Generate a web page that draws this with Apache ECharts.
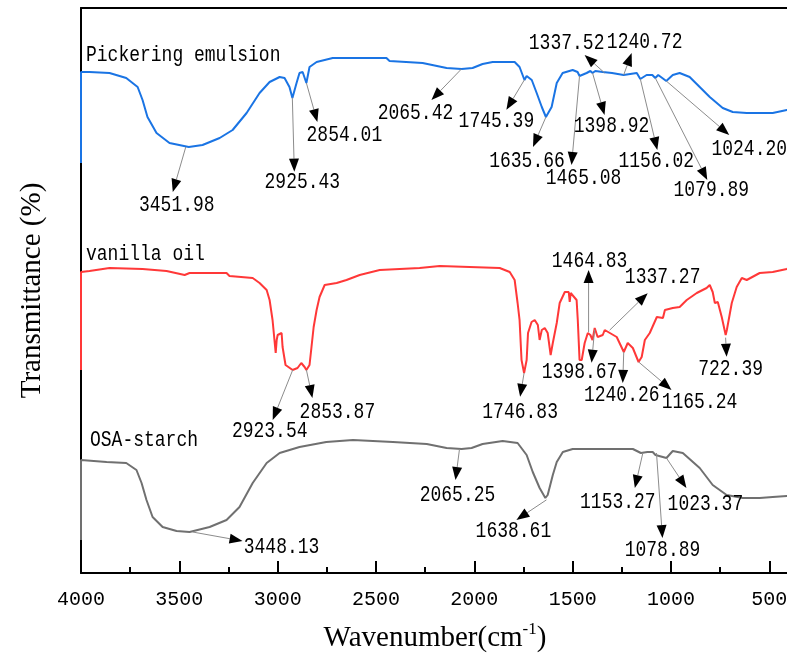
<!DOCTYPE html>
<html>
<head>
<meta charset="utf-8">
<script src="https://cdn.jsdelivr.net/npm/echarts@6/dist/echarts.min.js"></script>
<style>
  html, body { margin: 0; padding: 0; background: #fff; }
  #chart { width: 787px; height: 656px; }
</style>
</head>
<body>
<div id="chart"></div>
<script>
// FTIR spectra, stacked with vertical offsets (transmittance, arbitrary units)
// Each point: [wavenumber (cm-1), transmittance]
const pickeringEmulsion = [
  [4000,82.0],[4000,100.2],[3957,100.2],[3855,100.0],[3770,99.0],[3712,97.2],[3687,94.6],[3662,91.2],
  [3616,88.0],[3550,86.0],[3452,85.2],[3382,85.6],[3295,87.0],[3229,88.6],[3158,92.0],[3092,96.0],
  [3041,98.2],[2990,99.2],[2965,99.0],[2940,97.2],[2925,95.0],[2904,98.0],[2889,100.0],[2873,100.2],
  [2854,98.0],[2838,101.2],[2802,102.2],[2720,103.0],[2447,103.0],[2431,102.4],[2263,102.0],[2141,101.0],
  [2065,100.8],[2009,101.0],[1958,101.8],[1907,102.2],[1795,102.2],[1770,101.2],[1745,98.6],[1734,99.4],
  [1708,98.6],[1683,96.0],[1657,93.2],[1636,91.2],[1607,93.2],[1581,98.0],[1551,100.0],[1500,100.6],
  [1475,100.2],[1465,99.4],[1429,100.0],[1410,100.4],[1399,100.0],[1385,100.4],[1347,100.2],[1337,100.0],
  [1300,100.0],[1241,99.6],[1174,100.0],[1156,98.8],[1124,99.6],[1095,99.6],[1080,99.0],[1065,99.6],
  [1024,98.4],[991,99.6],[956,100.0],[905,99.2],[854,97.2],[803,95.2],[737,93.0],[686,92.2],
  [615,92.0],[483,92.0],[411,92.6],[400,92.6]
];

const vanillaOil = [
  [4000,40.6],[4000,60.2],[3957,60.4],[3855,61.0],[3687,60.8],[3565,60.4],[3473,59.6],[3448,60.0],
  [3260,60.0],[3245,59.4],[3127,59.0],[3092,58.0],[3056,56.6],[3041,54.6],[3026,50.6],[3010,44.0],
  [3005,46.6],[3000,47.6],[2980,48.0],[2975,45.2],[2960,41.6],[2924,40.6],[2899,41.0],[2880,42.0],
  [2863,41.2],[2854,40.6],[2838,41.6],[2828,45.2],[2817,49.2],[2802,52.6],[2787,55.2],[2761,57.6],
  [2700,58.0],[2650,58.6],[2583,59.6],[2481,60.6],[2278,61.0],[2176,61.4],[1871,61.0],[1820,60.2],
  [1795,58.6],[1780,54.0],[1770,50.6],[1760,42.6],[1747,40.0],[1734,42.6],[1727,48.0],[1709,50.2],
  [1693,50.6],[1677,49.6],[1668,46.6],[1657,48.6],[1642,49.0],[1627,48.0],[1612,43.6],[1601,46.0],
  [1581,50.0],[1566,54.0],[1540,56.2],[1520,56.2],[1515,54.2],[1510,56.0],[1500,56.0],[1480,54.6],
  [1474,50.6],[1465,42.6],[1454,42.6],[1439,46.0],[1423,48.0],[1410,47.6],[1399,46.6],[1388,49.0],
  [1373,47.2],[1347,47.6],[1337,48.6],[1276,47.2],[1240,44.2],[1220,46.0],[1194,45.0],[1165,42.2],
  [1149,43.2],[1133,46.6],[1108,48.0],[1072,51.2],[1041,51.0],[1031,52.6],[991,53.0],[956,53.2],
  [920,54.6],[869,56.0],[819,57.0],[803,57.6],[788,56.2],[777,54.0],[762,54.2],[742,51.2],
  [722,47.6],[716,48.6],[691,54.0],[666,57.2],[640,59.0],[615,58.6],[549,60.0],[483,60.2],
  [411,60.8],[400,61.0]
];

const osaStarch = [
  [4000,6.6],[4000,22.6],[3870,22.2],[3770,22.0],[3718,20.6],[3692,18.0],[3667,14.6],[3636,11.2],
  [3585,9.2],[3514,8.4],[3448,8.2],[3346,9.2],[3260,10.6],[3194,13.2],[3127,18.0],[3056,22.0],
  [2990,24.0],[2889,25.2],[2753,26.2],[2617,26.6],[2414,26.2],[2242,25.8],[2141,25.0],[2065,24.8],
  [2014,25.0],[1958,25.8],[1856,26.4],[1780,26.0],[1734,23.6],[1703,20.2],[1668,17.0],[1639,15.0],
  [1627,15.6],[1601,19.6],[1581,22.2],[1550,24.2],[1500,24.8],[1194,24.8],[1153,24.0],[1120,24.2],
  [1093,24.2],[1079,23.6],[1023,23.0],[1005,23.8],[991,24.4],[940,24.0],[854,21.0],[788,17.6],
  [717,15.6],[635,15.0],[549,15.0],[483,15.2],[411,15.4],[400,15.4]
];

const seriesNames = ['Pickering emulsion', 'vanilla oil', 'OSA-starch'];

// Axis ticks
const xTickValues = [4000, 3500, 3000, 2500, 2000, 1500, 1000, 500];
const xMinorTickValues = [3750, 3250, 2750, 2250, 1750, 1250, 750];

// Peak assignments (cm-1) printed next to each spectrum
const pickeringPeaks = ['3451.98','2925.43','2854.01','2065.42','1745.39','1635.66','1465.08',
                        '1398.92','1337.52','1240.72','1156.02','1079.89','1024.20'];
const vanillaPeaks = ['2923.54','2853.87','1746.83','1464.83','1398.67','1337.27','1240.26','1165.24','722.39'];
const osaPeaks = ['3448.13','2065.25','1638.61','1153.27','1078.89','1023.37'];

// Callout geometry in pixels, relative to the peak point on the curve:
// [line start dx, dy, arrow tip dx, dy, label centre dx, dy (from tip)]
const pickeringCallouts = [
  [-3,0,-16,45,4,13],[0,0,2,74,8,10],[0,0,11,39,27,13],[0,0,-30,31,-16,13],[0,0,-18,30,-10,11],
  [0,0,-13,30,-6,14],[0,0,-8,89,12,13],[0,0,12,42,7,11],[0,0,-20,-18,-18,-12],[0,0,8,-22,13,-11],
  [0,0,17,71,-1,11],[0,0,52,102,4,10],[0,0,63,54,20,14]
];
const vanillaCallouts = [
  [0,0,-20,50,-3,11],[0,0,6,28,25,14],[0,0,-4,24,0,15],[9,-28,9,-90,1,-9],[2,-10,-1,23,-12,9],
  [5,0,43,-37,15,-16],[0,0,-1,31,-1,12],[0,0,33,28,28,12],[0,3,1,22,4,12]
];
const osaCallouts = [
  [3,0,53,9,39,6],[-2,0,-6,31,2,15],[1,2,-29,22,-3,11],[2,0,-6,35,-17,14],[1,-2,7,83,0,12],[0,0,20,30,19,16]
];
// Series name offset from the first drawn point at 4000 cm-1
const nameOffsets = [[5,-17],[5,-18],[9,-20]];

const colors = ['#1a74e4', '#ff3838', '#707070'];
const monoFont = '"Liberation Mono", "DejaVu Sans Mono", monospace';
const serifFont = '"Liberation Serif", "Times New Roman", serif';
const labelStretch = 1.25;   // taller glyphs for the callout text

const chart = echarts.init(document.getElementById('chart'), null, { renderer: 'canvas' });

const baseX = { type: 'value', min: 400, max: 4000, inverse: true, splitLine: { show: false } };

chart.setOption({
  animation: false,
  backgroundColor: '#fff',
  grid: { left: 81, right: -2, top: 8, bottom: 83, containLabel: false, outerBoundsMode: 'none' },
  xAxis: [
    Object.assign({}, baseX, {
      position: 'bottom',
      name: '{a|Wavenumber(cm}{b|-1}{a|)}',
      nameLocation: 'middle',
      nameGap: 48,
      nameTextStyle: {
        rich: {
          a: { fontFamily: serifFont, fontSize: 29, color: '#000', lineHeight: 34 },
          b: { fontFamily: serifFont, fontSize: 17, color: '#000', verticalAlign: 'top', lineHeight: 34, padding: [0, 0, 14, 0] }
        }
      },
      axisLine: { show: true, onZero: false, lineStyle: { color: '#000', width: 2 } },
      axisTick: { show: true, inside: true, length: 12, customValues: xTickValues, lineStyle: { color: '#000', width: 2 } },
      axisLabel: {
        show: true, customValues: xTickValues, margin: 17,
        formatter: v => String(v),
        fontFamily: monoFont, fontSize: 20, color: '#000'
      }
    }),
    Object.assign({}, baseX, {
      position: 'bottom',
      axisLine: { show: false },
      axisTick: { show: true, inside: true, length: 6, customValues: xMinorTickValues, lineStyle: { color: '#000', width: 2 } },
      axisLabel: { show: false }
    }),
    Object.assign({}, baseX, {
      position: 'top',
      axisLine: { show: true, onZero: false, lineStyle: { color: '#000', width: 2 } },
      axisTick: { show: false },
      axisLabel: { show: false }
    })
  ],
  yAxis: {
    type: 'value', min: 0, max: 113,
    name: 'Transmittance (%)',
    nameLocation: 'middle',
    nameGap: 34,
    nameTextStyle: { fontFamily: serifFont, fontSize: 29, color: '#000' },
    axisLine: { show: true, onZero: false, lineStyle: { color: '#000', width: 2 } },
    axisTick: { show: false },
    axisLabel: { show: false },
    splitLine: { show: false }
  },
  series: [pickeringEmulsion, vanillaOil, osaStarch].map((d, i) => ({
    name: seriesNames[i],
    type: 'line',
    data: d,
    xAxisIndex: 0,
    yAxisIndex: 0,
    showSymbol: false,
    symbol: 'none',
    lineStyle: { color: colors[i], width: 2 },
    z: 3
  }))
});

// Linear interpolation of a spectrum at a given wavenumber
function valueAt(series, wn) {
  for (let i = 1; i < series.length; i++) {
    const a = series[i - 1], b = series[i];
    if (a[0] !== b[0] && a[0] >= wn && b[0] <= wn) {
      return a[1] + (b[1] - a[1]) * (a[0] - wn) / (a[0] - b[0]);
    }
  }
  return series[series.length - 1][1];
}

function labelText(text, x, y, align) {
  return {
    type: 'text', z: 21, x: x, y: y, scaleY: labelStretch,
    style: {
      text: text, x: 0, y: 0,
      font: '18px ' + monoFont, fill: '#000', align: align, verticalAlign: 'middle'
    }
  };
}

const groups = [
  { data: pickeringEmulsion, peaks: pickeringPeaks, callouts: pickeringCallouts },
  { data: vanillaOil, peaks: vanillaPeaks, callouts: vanillaCallouts },
  { data: osaStarch, peaks: osaPeaks, callouts: osaCallouts }
];

const elements = [];
groups.forEach((g, gi) => {
  // series name above the start of each spectrum
  const s = chart.convertToPixel({ xAxisIndex: 0, yAxisIndex: 0 }, g.data[1]);
  elements.push(labelText(seriesNames[gi], s[0] + nameOffsets[gi][0], s[1] + nameOffsets[gi][1], 'left'));

  g.peaks.forEach((txt, i) => {
    const wn = parseFloat(txt);
    const p = chart.convertToPixel({ xAxisIndex: 0, yAxisIndex: 0 }, [wn, valueAt(g.data, wn)]);
    const c = g.callouts[i];
    const x0 = p[0] + c[0], y0 = p[1] + c[1];
    const x1 = p[0] + c[2], y1 = p[1] + c[3];
    const len = Math.hypot(x1 - x0, y1 - y0);
    const ux = (x1 - x0) / len, uy = (y1 - y0) / len;
    const head = 13, half = 5;
    const bx = x1 - ux * head, by = y1 - uy * head;
    elements.push({
      type: 'line', z: 20,
      shape: { x1: x0, y1: y0, x2: bx, y2: by },
      style: { stroke: '#8c8c8c', lineWidth: 1 }
    });
    elements.push({
      type: 'polygon', z: 21,
      shape: { points: [[x1, y1], [bx - uy * half, by + ux * half], [bx + uy * half, by - ux * half]] },
      style: { fill: '#000', stroke: null }
    });
    elements.push(labelText(txt, x1 + c[4], y1 + c[5], 'center'));
  });
});

chart.setOption({ graphic: { elements: elements } });
</script>
</body>
</html>
